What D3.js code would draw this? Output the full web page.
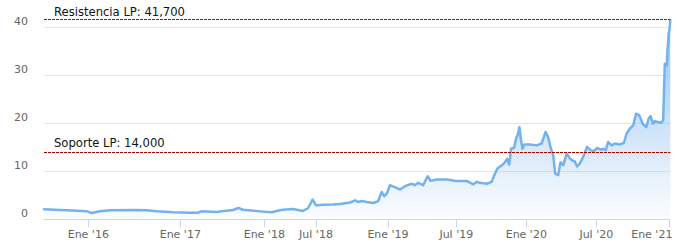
<!DOCTYPE html>
<html>
<head>
<meta charset="utf-8">
<script src="https://cdn.jsdelivr.net/npm/d3@7"></script>
<style>
  html, body { margin: 0; padding: 0; background: #fff; }
  svg { display: block; }
  text { font-family: "DejaVu Sans", "Lucida Grande", Arial, sans-serif; }
</style>
</head>
<body>
<svg id="chart" width="677" height="244"></svg>
<script>
// ---- Data ----
const dates = [
  "2015-07-01","2015-10-03","2015-12-25","2016-01-14","2016-02-16","2016-03-27","2016-06-27","2016-08-20","2016-09-29","2016-12-03",
  "2017-02-12","2017-03-19","2017-04-04","2017-06-08","2017-06-30","2017-08-18","2017-09-10","2017-10-01","2017-12-27",
  "2018-01-27","2018-02-13","2018-03-07","2018-04-11","2018-05-16","2018-06-03","2018-06-19",
  "2018-07-01","2018-07-19","2018-08-13","2018-08-31","2018-09-26","2018-10-09","2018-10-16","2018-10-27","2018-11-08","2018-11-25",
  "2018-12-07","2018-12-16","2018-12-22","2018-12-29",
  "2019-01-06","2019-01-19","2019-02-02","2019-02-15","2019-03-05","2019-03-13","2019-03-22","2019-04-04","2019-04-16","2019-04-24",
  "2019-05-10","2019-06-06","2019-07-01","2019-07-28","2019-08-15","2019-08-24","2019-09-01","2019-09-19","2019-10-02","2019-10-08",
  "2019-10-17","2019-10-26","2019-11-03","2019-11-12","2019-11-17","2019-11-22","2019-11-30","2019-12-05","2019-12-09","2019-12-14",
  "2019-12-18","2019-12-22","2019-12-27",
  "2020-01-10","2020-01-28","2020-02-10","2020-02-20","2020-02-27","2020-03-05","2020-03-11","2020-03-16","2020-03-24","2020-03-30",
  "2020-04-06","2020-04-15","2020-04-24","2020-05-02","2020-05-06","2020-05-12","2020-05-19","2020-05-28","2020-06-07","2020-06-16",
  "2020-06-25","2020-07-03","2020-07-12","2020-07-19","2020-07-25","2020-07-31","2020-08-09","2020-08-17","2020-08-30","2020-09-09",
  "2020-09-16","2020-09-24","2020-10-03","2020-10-10","2020-10-18","2020-10-27","2020-11-05","2020-11-11","2020-11-16","2020-11-22",
  "2020-11-27","2020-12-03","2020-12-12","2020-12-18","2020-12-22","2020-12-27","2020-12-29","2021-01-01","2021-01-03","2021-01-05"
];
const values = [
  2.08,1.9,1.7,1.3,1.67,1.9,1.94,1.9,1.67,1.46,
  1.39,1.39,1.67,1.53,1.67,1.94,2.36,2.0,1.6,
  1.46,1.74,2.0,2.15,1.74,2.3,4.1,
  2.9,3.05,3.1,3.2,3.5,3.96,3.6,3.8,3.6,3.4,
  3.8,5.7,4.8,5.35,
  7.1,6.7,6.2,6.9,7.4,7.1,7.6,7.1,8.96,8.0,
  8.3,8.3,8.0,8.0,7.3,7.8,7.6,7.4,7.8,9.0,
  10.6,11.1,11.6,12.6,11.4,14.7,14.9,16.8,17.5,19.2,
  16.5,14.7,15.6,
  15.6,15.4,15.8,18.2,17.1,14.7,13.3,9.5,9.2,11.9,
  11.25,13.7,12.6,12.15,12.1,11.0,11.6,13.0,15.1,14.4,
  14.2,14.9,14.5,14.7,14.4,16.1,15.4,15.8,15.6,15.9,
  17.85,18.9,19.6,22.0,21.7,19.9,19.2,21.0,21.5,19.9,
  20.5,20.3,20.1,20.6,32.4,32.1,35.2,38.7,39.6,41.5
];
const yTicks = [0, 10, 20, 30, 40];
const xTickDates = ["2016-01-01","2017-01-01","2018-01-01","2018-07-01","2019-01-01","2019-07-01","2020-01-01","2020-07-01","2021-01-01"];
const xTickLabels = ["Ene '16","Ene '17","Ene '18","Jul '18","Ene '19","Jul '19","Ene '20","Jul '20","Ene '21"];
const resistance = 41.7;
const support = 14.0;
const resistanceLabel = "Resistencia LP: 41,700";
const supportLabel = "Soporte LP: 14,000";

// ---- Layout ----
const parse = d3.utcParse("%Y-%m-%d");
const data = dates.map((d, i) => ({ date: parse(d), value: values[i] }));
const plotLeft = 44, plotRight = 670.3, plotTop = 27.3, plotBottom = 219.3;

// Ordinal-like (non-linear) time axis: piecewise scale through tick dates
const xDomain = [data[0].date].concat(xTickDates.map(parse), [data[data.length - 1].date]);
const xRange = [plotLeft, 88.3, 180.3, 264.3, 316, 388, 456.3, 526.3, 596.3, 668.7, plotRight];
const x = d3.scaleUtc().domain(xDomain).range(xRange);
const y = d3.scaleLinear().domain([0, 40]).range([plotBottom, plotTop]);

const svg = d3.select("#chart");

// gradient
const defs = svg.append("defs");
const grad = defs.append("linearGradient").attr("id", "areaGrad")
  .attr("gradientUnits", "userSpaceOnUse")
  .attr("x1", 0).attr("x2", 0).attr("y1", plotTop).attr("y2", plotBottom);
grad.append("stop").attr("offset", "0%").attr("stop-color", "#7cb5ec").attr("stop-opacity", 0.75);
grad.append("stop").attr("offset", "100%").attr("stop-color", "#7cb5ec").attr("stop-opacity", 0.03);

// gridlines
svg.append("g").selectAll("line").data(yTicks.filter(t => t > 0)).join("line")
  .attr("x1", plotLeft).attr("x2", plotRight)
  .attr("y1", d => Math.round(y(d)) + 0.5).attr("y2", d => Math.round(y(d)) + 0.5)
  .attr("stroke", "#e6e6e6").attr("stroke-width", 1);

// y labels
svg.append("g").selectAll("text").data(yTicks).join("text")
  .attr("x", 28).attr("y", d => y(d) - 2)
  .attr("text-anchor", "end")
  .attr("font-size", 11).attr("fill", "#666")
  .text(d => d);

// area + line
const area = d3.area().x(d => x(d.date)).y0(y(0)).y1(d => y(d.value)).curve(d3.curveLinear);
const line = d3.line().x(d => x(d.date)).y(d => y(d.value)).curve(d3.curveLinear);
svg.append("path").datum(data).attr("d", area).attr("fill", "url(#areaGrad)");
svg.append("path").datum(data).attr("d", line)
  .attr("fill", "none").attr("stroke", "#74b2ee").attr("stroke-width", 2.5)
  .attr("stroke-linejoin", "round").attr("stroke-linecap", "round");

// x axis line + ticks
svg.append("line").attr("x1", plotLeft).attr("x2", plotRight)
  .attr("y1", Math.round(plotBottom) + 0.5).attr("y2", Math.round(plotBottom) + 0.5)
  .attr("stroke", "#ccd6eb");
const xt = svg.append("g").selectAll("g").data(xTickDates.map((d, i) => ({ d: parse(d), label: xTickLabels[i] }))).join("g");
xt.append("line")
  .attr("x1", d => Math.round(x(d.d)) + 0.5).attr("x2", d => Math.round(x(d.d)) + 0.5)
  .attr("y1", Math.round(plotBottom) + 0.5).attr("y2", Math.round(plotBottom) + 8.5)
  .attr("stroke", "#ccd6eb");
xt.append("text")
  .attr("x", d => Math.min(x(d.d), plotRight - 18.5))
  .attr("y", 238)
  .attr("text-anchor", "middle")
  .attr("font-size", 11).attr("fill", "#666")
  .text(d => d.label);

// plot lines
svg.append("line").attr("x1", plotLeft).attr("x2", plotRight)
  .attr("y1", Math.round(y(resistance)) + 0.5).attr("y2", Math.round(y(resistance)) + 0.5)
  .attr("stroke", "#006400").attr("stroke-width", 1).attr("stroke-dasharray", "3,1");
svg.append("text").attr("x", 54).attr("y", y(resistance) - 3.5)
  .attr("font-size", 11.6).attr("fill", "#111").text(resistanceLabel);

svg.append("line").attr("x1", plotLeft).attr("x2", plotRight)
  .attr("y1", Math.round(y(support)) + 0.5).attr("y2", Math.round(y(support)) + 0.5)
  .attr("stroke", "#a00000").attr("stroke-width", 1).attr("stroke-dasharray", "3,1");
svg.append("text").attr("x", 54).attr("y", y(support) - 5)
  .attr("font-size", 11.6).attr("fill", "#111").text(supportLabel);
</script>
</body>
</html>
